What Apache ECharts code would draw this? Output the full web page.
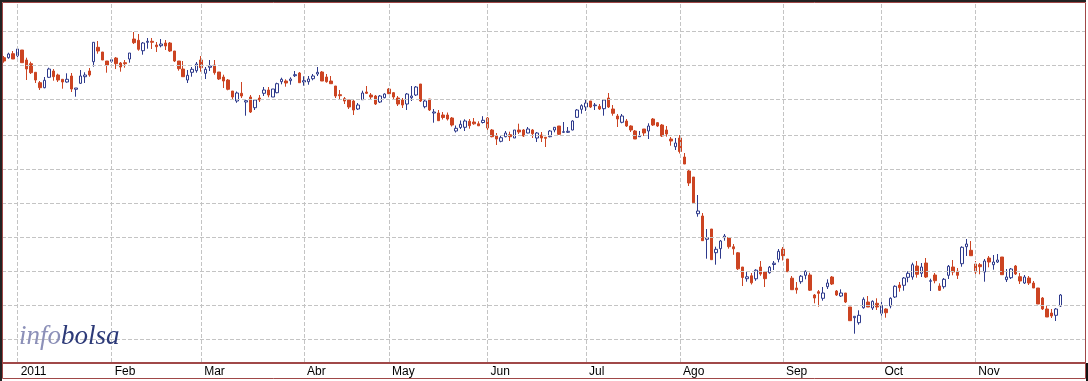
<!DOCTYPE html>
<html><head><meta charset="utf-8">
<script src="https://cdn.jsdelivr.net/npm/echarts@6/dist/echarts.min.js"></script>
<style>html,body{margin:0;padding:0;background:#fff}#c{width:1088px;height:381px}</style>
</head><body><div id="c"></div>
<script>
// ---- categories: trading days shown on the axis ----
const firstDay = '2010-12-29';
const lastDay = '2011-12-05';
const marketHolidays = ['2011-04-22', '2011-04-25'];
// ---- tick labels (first trading day of each month) ----
const monthLabels = {
  '2011-01': '2011', '2011-02': 'Feb', '2011-03': 'Mar', '2011-04': 'Abr',
  '2011-05': 'May', '2011-06': 'Jun', '2011-07': 'Jul', '2011-08': 'Ago',
  '2011-09': 'Sep', '2011-10': 'Oct', '2011-11': 'Nov'
};
const extraTickMonths = ['2011-12'];
// ---- horizontal grid levels ----
const gridValues = [9.685, 9.345, 9.005, 8.655, 8.315, 7.975, 7.635, 7.285, 6.945, 6.605];
// ---- OHLC series ----
const open = [
9.423,9.423,9.463,9.443,9.50,9.40,9.363,9.277,9.173,9.123,
9.227,9.29,9.25,9.207,9.18,9.24,9.107,9.167,9.233,9.29,
9.383,9.527,9.48,9.39,9.387,9.42,9.37,9.373,9.41,9.61,
9.597,9.493,9.577,9.587,9.55,9.543,9.57,9.57,9.49,9.39,
9.31,9.20,9.277,9.293,9.40,9.267,9.327,9.35,9.28,9.23,
9.20,9.09,8.99,9.067,8.98,9.03,8.923,9.02,9.067,9.10,
9.03,9.073,9.183,9.19,9.193,9.243,9.27,9.18,9.183,9.213,
9.26,9.28,9.23,9.19,9.14,9.053,9.013,9.00,8.99,8.91,
9.003,9.08,9.05,9.04,8.98,9.023,9.11,9.073,9.02,9.00,
8.96,9.023,9.05,9.16,8.933,9.01,8.87,8.87,8.85,8.85,
8.82,8.69,8.725,8.727,8.787,8.78,8.762,8.775,8.82,8.70,
8.64,8.587,8.633,8.653,8.62,8.70,8.70,8.67,8.70,8.62,
8.65,8.627,8.633,8.70,8.74,8.677,8.677,8.70,8.827,8.907,
8.93,8.99,8.943,8.937,8.913,9.02,8.91,8.84,8.777,8.79,
8.74,8.69,8.633,8.71,8.69,8.81,8.773,8.75,8.70,8.61,
8.533,8.62,8.43,8.29,8.23,7.863,7.84,7.607,7.71,7.473,
7.513,7.623,7.625,7.532,7.472,7.33,7.213,7.242,7.212,7.33,
7.28,7.273,7.355,7.407,7.508,7.41,7.218,7.12,7.183,7.247,
7.25,7.05,7.083,7.017,7.133,7.23,7.09,7.04,7.07,6.93,
6.823,6.773,6.923,6.98,6.92,6.967,6.867,6.91,6.94,7.03,
7.15,7.147,7.227,7.23,7.34,7.267,7.37,7.187,7.25,7.14,
7.133,7.247,7.33,7.287,7.363,7.533,7.497,7.36,7.353,7.28,
7.42,7.353,7.38,7.43,7.203,7.223,7.34,7.233,7.17,7.22,
7.17,7.12,7.02,6.91,6.87,6.847,6.94
];
const close = [
9.39,9.46,9.41,9.51,9.373,9.31,9.273,9.20,9.123,9.197,
9.31,9.233,9.20,9.18,9.207,9.11,9.12,9.24,9.25,9.25,
9.577,9.49,9.40,9.35,9.403,9.363,9.33,9.363,9.47,9.573,
9.507,9.57,9.587,9.577,9.533,9.56,9.54,9.49,9.39,9.313,
9.233,9.247,9.307,9.36,9.323,9.307,9.34,9.273,9.21,9.19,
9.107,9.03,9.07,9.04,8.993,8.88,9.00,9.00,9.10,9.05,
9.11,9.163,9.207,9.17,9.21,9.253,9.173,9.193,9.21,9.24,
9.277,9.19,9.183,9.163,9.04,9.043,8.99,8.93,8.90,8.95,
9.07,9.067,9.03,8.96,9.04,9.06,9.063,9.03,8.96,8.95,
9.06,9.04,9.13,8.99,8.99,8.90,8.88,8.793,8.825,8.81,
8.75,8.717,8.757,8.79,8.743,8.762,8.742,8.797,8.72,8.633,
8.61,8.623,8.67,8.633,8.70,8.68,8.64,8.71,8.663,8.67,
8.62,8.617,8.69,8.727,8.657,8.683,8.687,8.79,8.90,8.943,
8.97,8.93,8.95,8.91,9.00,8.93,8.867,8.81,8.84,8.74,
8.70,8.61,8.643,8.67,8.74,8.75,8.74,8.64,8.66,8.59,
8.57,8.485,8.36,8.17,7.973,7.89,7.593,7.623,7.403,7.507,
7.59,7.64,7.533,7.512,7.312,7.225,7.232,7.172,7.298,7.26,
7.213,7.328,7.368,7.487,7.443,7.283,7.103,7.102,7.238,7.287,
7.098,7.02,7.067,7.07,7.17,7.16,7.05,7.07,6.98,6.793,
6.837,6.847,7.007,6.93,6.987,6.93,6.947,6.873,7.017,7.137,
7.123,7.22,7.267,7.353,7.257,7.33,7.23,7.193,7.193,7.097,
7.207,7.337,7.28,7.247,7.527,7.56,7.443,7.28,7.333,7.39,
7.38,7.38,7.40,7.253,7.23,7.31,7.26,7.19,7.23,7.17,
7.12,6.96,6.91,6.83,6.84,6.91,7.05
];
const low = [
9.373,9.413,9.41,9.427,9.373,9.20,9.26,9.17,9.10,9.117,
9.22,9.193,9.18,9.113,9.173,9.08,9.033,9.16,9.17,9.233,
9.333,9.463,9.40,9.273,9.373,9.31,9.283,9.323,9.373,9.56,
9.493,9.453,9.513,9.51,9.48,9.527,9.50,9.48,9.38,9.293,
9.233,9.17,9.233,9.273,9.283,9.21,9.29,9.253,9.20,9.12,
9.097,9.00,8.972,9.02,8.843,8.87,8.90,8.98,9.04,9.027,
9.03,9.067,9.157,9.133,9.153,9.23,9.173,9.143,9.153,9.197,
9.24,9.19,9.173,9.163,9.02,9.00,8.96,8.91,8.85,8.90,
9.00,9.06,9.01,8.95,8.97,9.017,9.06,9.01,8.94,8.92,
8.90,8.99,9.04,8.98,8.917,8.89,8.773,8.79,8.805,8.795,
8.735,8.675,8.71,8.69,8.713,8.752,8.74,8.765,8.70,8.627,
8.55,8.577,8.627,8.59,8.62,8.66,8.63,8.667,8.62,8.58,
8.58,8.53,8.627,8.677,8.65,8.67,8.67,8.697,8.82,8.863,
8.89,8.92,8.90,8.90,8.843,8.92,8.843,8.73,8.767,8.73,
8.68,8.61,8.633,8.64,8.61,8.74,8.73,8.63,8.633,8.543,
8.50,8.465,8.36,8.14,7.973,7.833,7.593,7.413,7.403,7.353,
7.413,7.593,7.513,7.452,7.30,7.14,7.183,7.155,7.192,7.242,
7.13,7.263,7.30,7.377,7.395,7.283,7.10,7.063,7.162,7.207,
7.09,6.967,6.933,6.993,7.11,7.15,7.04,7.03,6.97,6.793,
6.663,6.753,6.913,6.93,6.90,6.90,6.843,6.823,6.917,7.02,
7.083,7.093,7.177,7.203,7.223,7.23,7.22,7.09,7.167,7.09,
7.113,7.21,7.247,7.21,7.333,7.44,7.443,7.253,7.257,7.183,
7.327,7.303,7.37,7.253,7.18,7.21,7.25,7.16,7.16,7.15,
7.12,6.96,6.90,6.83,6.82,6.79,6.93
];
const high = [
9.44,9.473,9.49,9.527,9.50,9.423,9.383,9.277,9.19,9.23,
9.323,9.31,9.263,9.207,9.267,9.27,9.12,9.30,9.277,9.32,
9.577,9.59,9.48,9.39,9.423,9.43,9.38,9.40,9.47,9.68,
9.66,9.58,9.62,9.62,9.58,9.61,9.60,9.58,9.49,9.39,
9.39,9.30,9.33,9.38,9.44,9.33,9.40,9.40,9.28,9.253,
9.21,9.09,9.085,9.18,9.005,9.05,9.01,9.05,9.13,9.13,
9.11,9.173,9.223,9.207,9.227,9.29,9.28,9.237,9.24,9.26,
9.33,9.29,9.26,9.24,9.14,9.10,9.03,9.00,9.00,8.97,
9.093,9.14,9.07,9.05,9.05,9.067,9.12,9.08,9.04,9.02,
9.07,9.14,9.14,9.16,9.00,9.01,8.91,8.90,8.88,8.875,
8.83,8.745,8.795,8.807,8.81,8.82,8.787,8.838,8.83,8.71,
8.67,8.64,8.69,8.683,8.70,8.763,8.71,8.73,8.71,8.68,
8.68,8.63,8.70,8.73,8.74,8.78,8.73,8.797,8.91,8.957,
9.003,8.99,8.97,8.96,9.01,9.07,8.95,8.86,8.86,8.81,
8.747,8.70,8.69,8.71,8.767,8.82,8.78,8.76,8.74,8.63,
8.62,8.65,8.47,8.30,8.23,8.05,7.87,7.71,7.71,7.533,
7.60,7.66,7.625,7.56,7.48,7.33,7.29,7.27,7.308,7.39,
7.288,7.34,7.39,7.51,7.53,7.41,7.24,7.18,7.25,7.297,
7.273,7.06,7.10,7.13,7.207,7.24,7.10,7.107,7.07,6.93,
6.837,6.897,7.027,7.04,6.997,7.017,6.98,6.917,7.027,7.147,
7.18,7.23,7.287,7.373,7.39,7.37,7.42,7.213,7.27,7.167,
7.22,7.35,7.40,7.32,7.537,7.61,7.59,7.39,7.37,7.41,
7.44,7.45,7.46,7.43,7.31,7.32,7.35,7.27,7.25,7.24,
7.19,7.12,7.03,6.94,6.91,6.92,7.06
];

function tradingDays(start, end, skip) {
  const out = [];
  const d = new Date(start + 'T00:00:00Z'), e = new Date(end + 'T00:00:00Z');
  while (d <= e) {
    const s = d.toISOString().slice(0, 10), w = d.getUTCDay();
    if (w !== 0 && w !== 6 && skip.indexOf(s) < 0) out.push(s);
    d.setUTCDate(d.getUTCDate() + 1);
  }
  return out;
}
const dates = tradingDays(firstDay, lastDay, marketHolidays);
const labelIdx = new Set(), tickIdx = new Set(), gridDates = [];
let yearIdx = -1;
dates.forEach(function (d, i) {
  const m = d.slice(0, 7);
  if (i > 0 && dates[i - 1].slice(0, 7) === m) return;
  if (monthLabels[m]) { labelIdx.add(i); tickIdx.add(i); gridDates.push(d); if (m.endsWith('-01')) yearIdx = i; }
  if (extraTickMonths.indexOf(m) >= 0) tickIdx.add(i);
});
const ohlc = open.map(function (o, i) { return [o, close[i], low[i], high[i]]; });

const RED = '#cc4422', BLUE = '#2e3a8c', FRAME = '#a04848';
const chart = echarts.init(document.getElementById('c'), null, { renderer: 'canvas' });
chart.setOption({
  animation: false,
  backgroundColor: '#ffffff',
  grid: { left: 2, top: 3, width: 1083, height: 359, containLabel: false },
  xAxis: [{
    type: 'category', data: dates, boundaryGap: true, offset: 1,
    axisLine: { lineStyle: { color: FRAME, width: 2 } },
    axisTick: { interval: function (i) { return tickIdx.has(i); }, alignWithLabel: true, length: 4, lineStyle: { color: '#000' } },
    axisLabel: {
      interval: function (i) { return labelIdx.has(i); },
      formatter: function (v) { return monthLabels[v.slice(0, 7)] || ''; },
      align: 'left', padding: [0, 0, 0, 3], margin: 3,
      fontFamily: 'Liberation Sans, Arial, sans-serif', fontSize: 12, color: '#000'
    },
    splitLine: { show: false }
  }, {
    type: 'category', data: dates, boundaryGap: true, offset: 1, position: 'bottom',
    axisLine: { show: false }, axisLabel: { show: false }, splitLine: { show: false },
    axisTick: { interval: function (i) { return i === yearIdx; }, alignWithLabel: true, length: 16, lineStyle: { color: '#000' } }
  }],
  yAxis: { type: 'value', min: 6.38, max: 9.97, show: false },
  series: [{
    type: 'line', data: [], z: 1, silent: true,
    markLine: {
      silent: true, symbol: ['none', 'none'], animation: false,
      label: { show: false },
      lineStyle: { color: '#c4c4c4', type: [4, 2], width: 1 },
      emphasis: { disabled: true },
      data: gridValues.map(function (v) { return { yAxis: v }; })
        .concat(gridDates.map(function (d) { return { xAxis: d }; }))
    }
  }, {
    type: 'candlestick', data: ohlc, z: 3, barWidth: 3,
    itemStyle: { color: '#ffffff', color0: RED, borderColor: BLUE, borderColor0: RED, borderWidth: 1 }
  }],
  graphic: [
    { type: 'text', left: 19, top: 323, z: 10, silent: true,
      style: { text: '{a|info}{b|bolsa}', rich: {
        a: { fill: '#8c90b8', fontFamily: 'Liberation Serif', fontStyle: 'italic', fontSize: 27 },
        b: { fill: '#2d3a78', fontFamily: 'Liberation Serif', fontStyle: 'italic', fontSize: 27 } } } },
    { type: 'rect', z: 20, silent: true, shape: { x: 2.5, y: 2.5, width: 1083, height: 376 }, style: { fill: 'none', stroke: FRAME, lineWidth: 1 } },
    { type: 'rect', z: 21, silent: true, shape: { x: 0, y: 0, width: 2, height: 381 }, style: { fill: '#222' } },
    { type: 'rect', z: 21, silent: true, shape: { x: 0, y: 0, width: 1086, height: 2 }, style: { fill: '#222' } },
    { type: 'rect', z: 21, silent: true, shape: { x: 1086, y: 363, width: 2, height: 18 }, style: { fill: '#111' } }
  ]
});
</script>
</body></html>
